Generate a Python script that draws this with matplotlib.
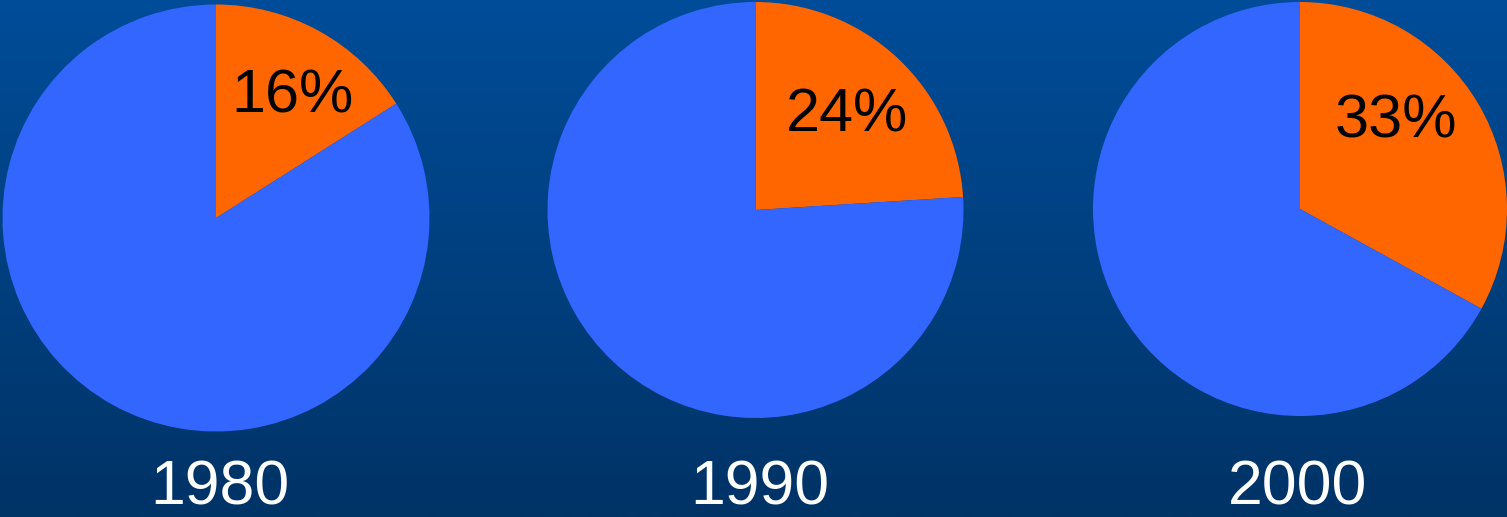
import numpy as np
import matplotlib
matplotlib.use("Agg")
import matplotlib.pyplot as plt

# Data
years = ["1980", "1990", "2000"]
shares = [16, 24, 33]          # percent (orange slice)
share_labels = ["16%", "24%", "33%"]

# Layout (pixel coordinates, y up)
centers_x = [216, 755.5, 1300]
centers_y = [299, 307, 308]
radii = [213.5, 208, 207]
label_dx = [77, 91.5, 96]
label_dy = [121, 94, 87]
year_x = [220, 760, 1298]
year_y = 29

orange = "#FF6600"
blue = "#3366FF"

W, H = 1507, 517
fig = plt.figure(figsize=(W / 100, H / 100), dpi=100)

# gradient background
bg = fig.add_axes([0, 0, 1, 1])
top = np.array([0.0, 0.30, 0.60])
bot = np.array([0.0, 0.20, 0.40])
t = np.linspace(0, 1, 256)[:, None]
grad = top[None, :] * (1 - t) + bot[None, :] * t
bg.imshow(grad[:, None, :], aspect="auto", extent=[0, 1, 0, 1], interpolation="bilinear")
bg.axis("off")

ax = fig.add_axes([0, 0, 1, 1])
ax.patch.set_alpha(0)
for i, s in enumerate(shares):
    ax.pie([s, 100 - s], colors=[orange, blue], startangle=90, counterclock=False,
           center=(centers_x[i], centers_y[i]), radius=radii[i],
           wedgeprops=dict(linewidth=0, antialiased=True), frame=False)
    ax.text(centers_x[i] + label_dx[i], centers_y[i] + label_dy[i], share_labels[i],
            ha="center", va="center", fontsize=44, family="Liberation Sans", color="black")
    ax.text(year_x[i], year_y, years[i], ha="center", va="center", fontsize=45,
            family="Liberation Sans", color="white")

ax.set_xlim(0, W)
ax.set_ylim(0, H)
ax.set_aspect("auto")
ax.axis("off")

fig.savefig("out.png", dpi=100)
